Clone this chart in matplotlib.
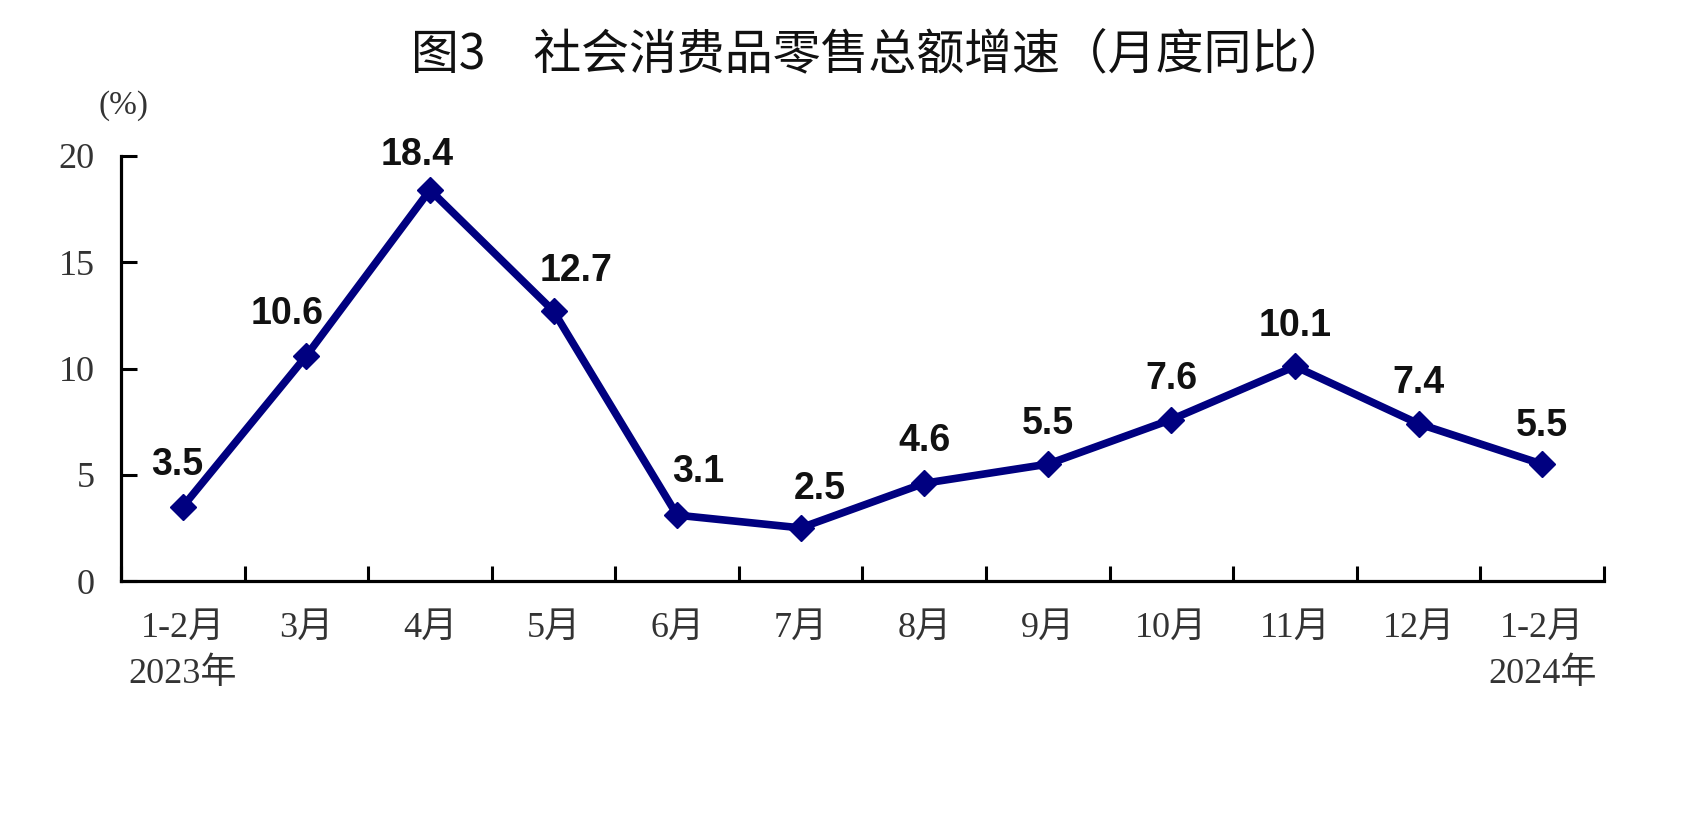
import matplotlib
matplotlib.use("Agg")
import matplotlib.pyplot as plt
from matplotlib.ticker import FixedLocator

# ---- data ----
categories = ["1-2月\n2023年", "3月", "4月", "5月", "6月", "7月", "8月",
              "9月", "10月", "11月", "12月", "1-2月\n2024年"]
values = [3.5, 10.6, 18.4, 12.7, 3.1, 2.5, 4.6, 5.5, 7.6, 10.1, 7.4, 5.5]
y_ticks = [0, 5, 10, 15, 20]
title = "图3　社会消费品零售总额增速（月度同比）"
unit_label = "(%)"

# label offsets (points) – styling only
label_offsets = [(-4, 23), (-14, 23), (-9, 18), (16, 22), (15, 24), (14, 21),
                 (0, 23), (0, 22), (0, 22), (0, 22), (0, 22), (0, 20)]

serif = ["Liberation Serif", "Noto Sans CJK SC"]
navy = "#000080"

fig = plt.figure(figsize=(16.88, 8.18), dpi=100)
ax = fig.add_axes([0.0717, 0.2897, 0.9502 - 0.0717, 0.8093 - 0.2897])

x = list(range(len(values)))
ax.plot(x, values, color=navy, linewidth=5.5, marker="D", markersize=13,
        markeredgewidth=1, markerfacecolor=navy, markeredgecolor=navy,
        solid_joinstyle="miter", zorder=3)

for xi, v, (dx, dy) in zip(x, values, label_offsets):
    ax.annotate(f"{v:.1f}", (xi, v), xytext=(dx, dy), textcoords="offset points",
                ha="center", va="baseline", fontsize=27, fontweight="bold",
                family="Liberation Sans", color="#111111")

ax.set_xlim(-0.5, len(values) - 0.5)
ax.set_ylim(0, 20)

for s in ["top", "right"]:
    ax.spines[s].set_visible(False)
for s in ["left", "bottom"]:
    ax.spines[s].set_linewidth(2.3)
    ax.spines[s].set_color("black")

ax.set_yticks(y_ticks)
ax.set_yticklabels([str(t) for t in y_ticks], family=serif, fontsize=26, color="#333333")
ax.tick_params(axis="y", direction="in", length=11.5, width=2.2, pad=19)

ax.set_xticks(x)
ax.set_xticklabels(categories, family=serif, fontsize=26, color="#333333",
                   linespacing=1.5)
ax.tick_params(axis="x", which="major", length=0, pad=22)
ax.xaxis.set_minor_locator(FixedLocator([i - 0.5 for i in range(len(values) + 1)]))
ax.tick_params(axis="x", which="minor", direction="in", length=11, width=2.2)

fig.text(0.521, 0.933, title, ha="center", va="center", fontsize=34.5,
         family=["Noto Sans CJK SC", "DejaVu Sans"], color="#111111")
fig.text(124 / 1688, 1 - 106 / 818, unit_label, ha="center", va="center",
         fontsize=24, family=serif, color="#333333")

fig.savefig("out.png", dpi=100)
